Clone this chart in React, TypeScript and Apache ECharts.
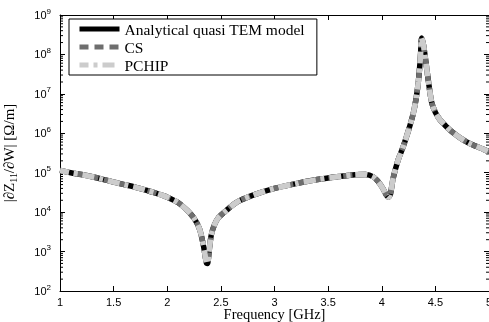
import React, { useEffect, useRef } from "react";
import * as echarts from "echarts";

const freq = [
  1.0, 1.1, 1.2, 1.3, 1.4, 1.5, 1.6, 1.7, 1.8, 1.9, 2.0, 2.1, 2.18, 2.25, 2.3, 2.33, 2.35, 2.365, 2.375,
  2.39, 2.41, 2.44, 2.48, 2.55, 2.65, 2.8, 3.0, 3.2, 3.4, 3.6, 3.75, 3.85, 3.92, 3.97, 4.01, 4.04, 4.06,
  4.08, 4.105, 4.15, 4.2, 4.25, 4.294, 4.32, 4.341, 4.36, 4.372, 4.385, 4.4, 4.434, 4.466, 4.5, 4.543,
  4.6, 4.636, 4.7, 4.76, 4.82, 4.885, 4.95, 5.0,
];
const dZdW = [
  1.15e5, 1.0e5, 9.0e4, 7.9e4, 6.8e4, 5.8e4, 5.0e4, 4.3e4, 3.6e4, 3.0e4, 2.4e4, 1.75e4, 1.15e4, 7.0e3,
  3.8e3, 1.8e3, 9.0e2, 5.2e2, 5.0e2, 1.0e3, 2.6e3, 4.8e3, 7.4e3, 1.1e4, 1.8e4, 2.7e4, 4.0e4, 5.3e4,
  6.7e4, 8.0e4, 8.9e4, 9.0e4, 7.9e4, 5.8e4, 4.0e4, 2.8e4, 2.4e4, 2.8e4, 7.0e4, 2.0e5, 4.6e5, 1.2e6,
  3.2e6, 7.5e6, 2.0e7, 8.0e7, 2.6e8, 2.0e8, 1.1e8, 2.2e7, 6.0e6, 3.4e6, 2.2e6, 1.5e6, 1.2e6, 8.8e5,
  6.8e5, 5.5e5, 4.6e5, 3.9e5, 3.4e5,
];
const seriesNames = ["Analytical quasi TEM model", "CS", "PCHIP"];
const decades = [2, 3, 4, 5, 6, 7, 8];
const minorMultipliers = [2, 3, 4, 5, 6, 7, 8, 9];

export default function App() {
  const ref = useRef<HTMLDivElement>(null);
  useEffect(() => {
    if (!ref.current) return;
    const chart = echarts.init(ref.current, null, { renderer: "svg" });
    const pts = freq.map((f, i) => [f, dZdW[i]]);
    const minorTicks: number[][] = [];
    decades.forEach((d) => minorMultipliers.forEach((m) => minorTicks.push([m * Math.pow(10, d)])));
    const serif = "Liberation Serif";
    const sans = "Liberation Sans";
    const yLabel = {
      formatter: (v: number) => `{b|10}{e|${Math.round(Math.log10(v))}}`,
      rich: {
        b: { fontSize: 11, fontFamily: sans, color: "#000" },
        e: { fontSize: 8, fontFamily: sans, color: "#000", padding: [0, 0, 8, 0] },
      },
    };
    chart.setOption({
      animation: false,
      grid: { left: 60, right: 0, top: 15, bottom: 31, outerBoundsMode: "none", containLabel: false },
      legend: {
        data: seriesNames,
        orient: "vertical",
        left: 69,
        top: 19,
        backgroundColor: "#fff",
        borderColor: "#000",
        borderWidth: 1,
        borderRadius: 0,
        padding: [2, 12, 2, 8],
        itemWidth: 40,
        itemHeight: 14,
        itemGap: 2,
        itemStyle: { opacity: 0, color: "transparent", borderWidth: 0 },
        lineStyle: { width: 5 },
        textStyle: { fontFamily: serif, fontSize: 15.5, color: "#000" },
      },
      xAxis: [
        {
          type: "value",
          min: 1,
          max: 5,
          interval: 0.5,
          name: "Frequency [GHz]",
          nameLocation: "middle",
          nameGap: 16,
          nameMoveOverlap: false,
          nameTextStyle: { fontFamily: serif, fontSize: 14.5, lineHeight: 14, color: "#000" },
          axisLine: { lineStyle: { color: "#000", width: 1 } },
          axisTick: { inside: true, length: 5, lineStyle: { color: "#000" } },
          axisLabel: { fontFamily: sans, fontSize: 11, lineHeight: 11, color: "#000", margin: 5 },
          splitLine: { show: false },
        },
        {
          type: "value",
          position: "top",
          min: 1,
          max: 5,
          interval: 0.5,
          axisLine: { lineStyle: { color: "#000", width: 1 } },
          axisTick: { inside: true, length: 5, lineStyle: { color: "#000" } },
          axisLabel: { show: false },
          splitLine: { show: false },
        },
      ],
      yAxis: [
        {
          type: "log",
          logBase: 10,
          min: 1e2,
          max: 1e9,
          name: "|∂Z{s|11}/∂W| [Ω/m]",
          nameLocation: "middle",
          nameGap: 42,
          nameRotate: 90,
          nameMoveOverlap: false,
          nameTextStyle: {
            fontFamily: serif,
            fontSize: 15,
            color: "#000",
            rich: { s: { fontFamily: serif, fontSize: 10, color: "#000", padding: [8, 0, 0, 0] } },
          },
          axisLine: { lineStyle: { color: "#000", width: 1 } },
          axisTick: { inside: true, length: 5, lineStyle: { color: "#000" } },
          axisLabel: { ...yLabel, margin: 9 },
          splitLine: { show: false },
          minorTick: { show: false },
        },
        {
          type: "log",
          logBase: 10,
          min: 1e2,
          max: 1e9,
          position: "right",
          axisLine: { lineStyle: { color: "#000", width: 1 } },
          axisTick: { inside: true, length: 5, lineStyle: { color: "#000" } },
          axisLabel: { show: false },
          splitLine: { show: false },
        },
      ],
      series: [
        {
          name: seriesNames[0],
          type: "line",
          data: pts,
          symbol: "none",
          smooth: 0.3,
          color: "#000",
          lineStyle: { color: "#000", width: 5.5, type: "solid" },
        },
        {
          name: seriesNames[1],
          type: "line",
          data: pts,
          symbol: "none",
          smooth: 0.3,
          color: "#6e6e6e",
          lineStyle: { color: "#6e6e6e", width: 5.5, type: [9, 6], dashOffset: 0 },
        },
        {
          name: seriesNames[2],
          type: "line",
          data: pts,
          symbol: "none",
          smooth: 0.3,
          color: "#cccccc",
          lineStyle: { color: "#cccccc", width: 5.5, type: [12, 5, 4, 5], dashOffset: 3 },
        },
        {
          type: "custom",
          data: minorTicks,
          encode: { y: 0 },
          silent: true,
          renderItem: (params: any, api: any) => {
            const v = api.value(0);
            const l = api.coord([1, v]);
            const r = api.coord([5, v]);
            return {
              type: "group",
              children: [
                { type: "line", shape: { x1: l[0], y1: l[1], x2: l[0] + 3, y2: l[1] }, style: { stroke: "#000", lineWidth: 1 } },
                { type: "line", shape: { x1: r[0], y1: r[1], x2: r[0] - 3, y2: r[1] }, style: { stroke: "#000", lineWidth: 1 } },
              ],
            };
          },
        },
      ],
    });
    return () => chart.dispose();
  }, []);
  return <div ref={ref} style={{ position: "fixed", left: 0, top: 0, width: 489, height: 322 }} />;
}
